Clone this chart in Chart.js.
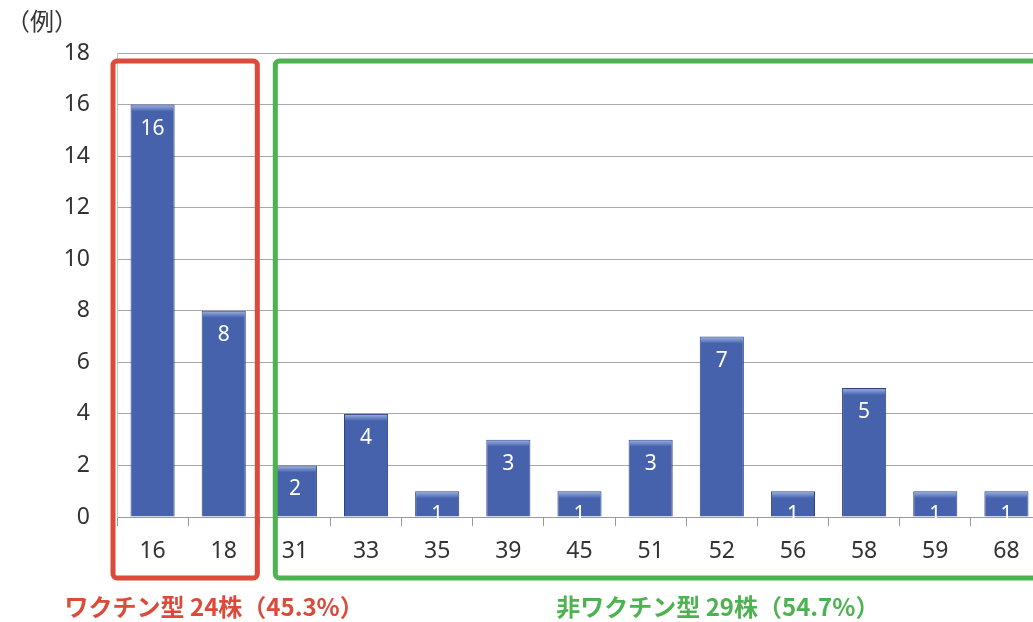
<!DOCTYPE html>
<html lang="ja">
<head>
<meta charset="utf-8">
<title>型別株数</title>
<script src="https://cdn.jsdelivr.net/npm/chart.js@4.4.1/dist/chart.umd.min.js"></script>
<style>
  html, body { margin: 0; padding: 0; background: #fff; overflow: hidden; }
  #wrap { position: relative; width: 1033px; height: 622px; overflow: hidden; }
  #unit { position: absolute; left: 6px; top: 2px; font: 24px "Noto Sans CJK JP", sans-serif; color: #333; }
  canvas { position: absolute; left: 0; top: 0; }
</style>
</head>
<body>
<div id="wrap">
  <canvas id="typeChart" width="1045" height="622"></canvas>
  <div id="unit">（例）</div>
</div>
<script>
// genotype labels and case counts
const categories = ['16', '18', '31', '33', '35', '39', '45', '51', '52', '56', '58', '59', '68'];
const counts = [16, 8, 2, 4, 1, 3, 1, 3, 7, 1, 5, 1, 1];

// y axis range
const yMax = 18;
const yStep = 2;

// vaccine / non-vaccine groups (index range into categories)
const groupNames = ['ワクチン型 24株（45.3%）', '非ワクチン型 29株（54.7%）'];
const groupRanges = [[0, 1], [2, 12]];
const groupColors = ['#dc4a3a', '#4db350'];

// white value labels near the top of each bar
const valueLabels = {
    id: 'valueLabels',
    afterDatasetsDraw(chart) {
        const ctx = chart.ctx;
        const meta = chart.getDatasetMeta(0);
        ctx.save();
        ctx.fillStyle = '#ffffff';
        ctx.font = '21px "Noto Sans", sans-serif';
        ctx.textAlign = 'center';
        ctx.textBaseline = 'middle';
        meta.data.forEach((bar, i) => {
            ctx.fillText(String(counts[i]), bar.x, bar.y + 24);
        });
        ctx.restore();
    }
};

// soft highlight along the top edge of each bar
const barBevel = {
    id: 'barBevel',
    afterDatasetsDraw(chart) {
        const ctx = chart.ctx;
        const meta = chart.getDatasetMeta(0);
        ctx.save();
        meta.data.forEach((bar) => {
            const w = bar.width;
            const g = ctx.createLinearGradient(0, bar.y, 0, bar.y + 7);
            g.addColorStop(0, 'rgba(170,190,235,0.9)');
            g.addColorStop(1, 'rgba(170,190,235,0)');
            ctx.fillStyle = g;
            ctx.fillRect(bar.x - w / 2 + 1, bar.y + 1, w - 2, 7);
        });
        ctx.restore();
    }
};

// rounded group frames and their captions
const groupFrames = {
    id: 'groupFrames',
    afterDraw(chart) {
        const ctx = chart.ctx;
        const x = chart.scales.x;
        const y = chart.scales.y;
        const band = x.getPixelForValue(1) - x.getPixelForValue(0);
        const top = y.getPixelForValue(yMax) + 8;
        const bottom = chart.chartArea.bottom + 61;
        const pads = [[-4, -2], [16, 30]];
        ctx.save();
        ctx.lineWidth = 5;
        groupRanges.forEach((r, i) => {
            const left = x.getPixelForValue(r[0]) - band / 2 + pads[i][0];
            const right = x.getPixelForValue(r[1]) + band / 2 + pads[i][1];
            ctx.strokeStyle = groupColors[i];
            ctx.beginPath();
            ctx.roundRect(left, top, right - left, bottom - top, 4);
            ctx.stroke();
        });
        ctx.font = 'bold 24px "Noto Sans CJK JP", sans-serif';
        ctx.textAlign = 'center';
        ctx.textBaseline = 'middle';
        const captionX = [
            (x.getPixelForValue(0) + x.getPixelForValue(1)) / 2 + 26,
            x.getPixelForValue(8) - 4
        ];
        groupNames.forEach((name, i) => {
            ctx.fillStyle = groupColors[i];
            ctx.fillText(name, captionX[i], bottom + 29);
        });
        ctx.restore();
    }
};

const ctx = document.getElementById('typeChart').getContext('2d');

new Chart(ctx, {
    type: 'bar',
    data: {
        labels: categories,
        datasets: [{
            data: counts,
            backgroundColor: '#4762ad',
            borderColor: '#2d4580',
            borderWidth: 1,
            categoryPercentage: 1,
            barPercentage: 0.62
        }]
    },
    options: {
        responsive: false,
        animation: false,
        layout: { padding: { left: 0, right: 3, top: 53, bottom: 55 } },
        plugins: {
            legend: { display: false },
            tooltip: { enabled: false }
        },
        scales: {
            x: {
                afterFit(scale) { scale.height = 50; },
                grid: {
                    offset: true,
                    drawOnChartArea: false,
                    drawTicks: true,
                    tickLength: 9,
                    color: '#9a9a9a'
                },
                border: { color: '#9a9a9a' },
                ticks: {
                    color: '#333',
                    padding: 12,
                    font: { size: 23, family: '"Noto Sans", sans-serif' }
                }
            },
            y: {
                min: 0,
                max: yMax,
                afterFit(scale) { scale.width = 117; },
                grid: { color: '#a8a8a8', drawTicks: false },
                border: { color: '#c8c8c8' },
                ticks: {
                    stepSize: yStep,
                    color: '#333',
                    padding: 27,
                    font: { size: 23, family: '"Noto Sans", sans-serif' }
                }
            }
        }
    },
    plugins: [barBevel, valueLabels, groupFrames]
});
</script>
</body>
</html>
